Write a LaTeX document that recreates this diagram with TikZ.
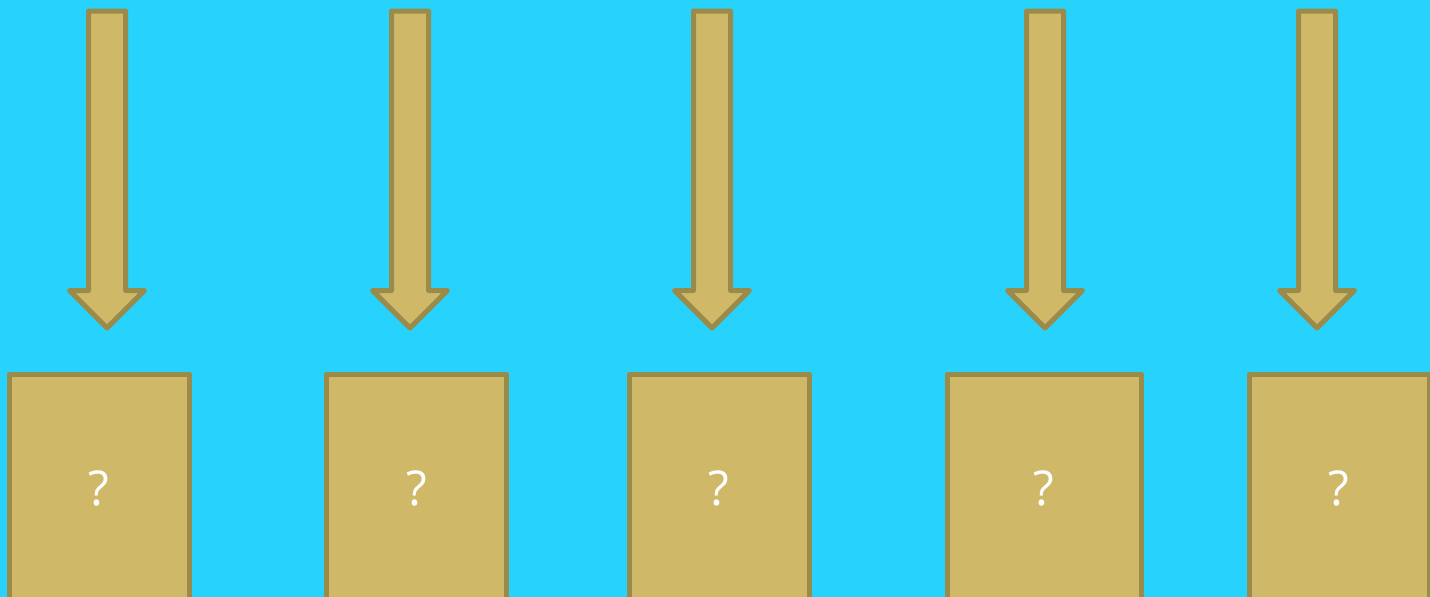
\documentclass[tikz,border=0pt]{standalone}
\usepackage{fontspec}
\setmainfont{Open Sans}
\definecolor{SkyBg}{RGB}{39,211,253}
\definecolor{SandFill}{RGB}{207,185,104}
\definecolor{SandEdge}{RGB}{155,139,75}
\usetikzlibrary{positioning}

\begin{document}
\begin{tikzpicture}[
        x=1pt, y=-1pt,
        font=\fontsize{48}{48}\selectfont,
        slot/.style={draw=SandEdge, fill=SandFill, line width=5pt, line join=round,
                     rectangle, minimum height=228pt, inner sep=0pt,
                     text=white},
        downarr/.style={draw=SandEdge, fill=SandFill, line width=5pt, line join=round}
      ]
        % canvas
        \fill[SkyBg] (0,0) rectangle (1430,597);
        \useasboundingbox (0,0) rectangle (1430,597);
        % falling arrows
        \foreach \cx in {107,410,712,1045,1317}
          \draw[downarr] (\cx-18.5,11) -- (\cx+18.5,11) -- (\cx+18.5,290.5)
            -- (\cx+37.5,290.5) -- (\cx,328) -- (\cx-37.5,290.5)
            -- (\cx-18.5,290.5) -- cycle;
        % boxes below, cut off by the bottom edge
        \node[slot, minimum width=180pt] (b1) at (99,488)   {?};
        \node[slot, minimum width=180pt] (b2) at (416.5,488) {?};
        \node[slot, minimum width=180pt] (b3) at (719,488)  {?};
        \node[slot, minimum width=194pt] (b4) at (1044,488) {?};
        \node[slot, minimum width=180pt] (b5) at (1339,488) {?};
      \end{tikzpicture}
\end{document}
